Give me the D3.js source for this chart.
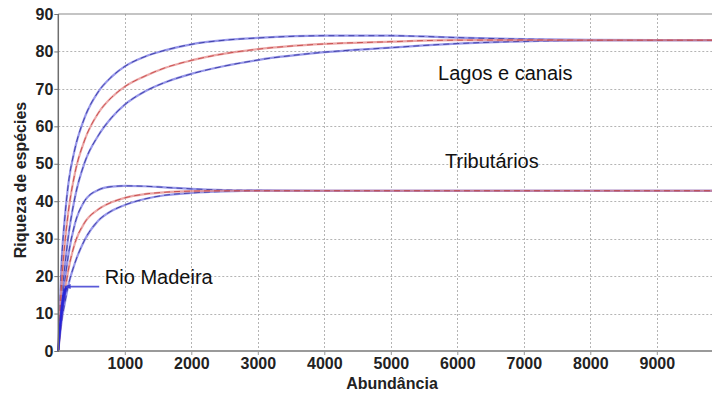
<!DOCTYPE html>
<html>
<head>
<meta charset="utf-8">
<script src="https://cdn.jsdelivr.net/npm/d3@7"></script>
<style>
  html, body { margin: 0; padding: 0; background: #fff; }
  svg { display: block; }
</style>
</head>
<body>
<svg id="chart" width="712" height="394"></svg>
<script>
// Rarefaction curves: species richness vs. abundance (upper bound, mean, lower bound)
const abundance = [0, 50, 100, 150, 250, 400, 600, 800, 1000, 1300, 1600, 2000, 2500, 3000, 4000, 5000, 5500, 6000, 7000, 8000, 9000, 9830];

const lagosUpper = [0, 24, 36, 44.5, 54, 62.5, 69.2, 73.2, 76.0, 78.6, 80.3, 81.9, 83.0, 83.6, 84.2, 84.2, 84.0, 83.7, 83.3, 83.1, 83.0, 83.0];
const lagosMean  = [0, 18, 29, 37, 47.5, 56.5, 63.5, 67.7, 70.6, 73.4, 75.6, 77.6, 79.4, 80.6, 82.0, 82.6, 82.9, 83.0, 83.05, 83.0, 83.0, 83.0];
const lagosLower = [0, 14, 23, 30.5, 41, 50.5, 57.5, 62.3, 65.8, 69.3, 71.7, 74.0, 76.1, 77.7, 79.8, 81.0, 81.6, 82.1, 82.7, 82.95, 83.0, 83.0];

const tribUpper = [0, 12, 19, 25.5, 34, 40.2, 43.0, 43.9, 44.1, 44.0, 43.7, 43.3, 43.0, 42.9, 42.8, 42.8, 42.8, 42.8, 42.8, 42.8, 42.8, 42.8];
const tribMean  = [0, 10, 16, 21.5, 28.8, 34.4, 37.8, 39.7, 40.9, 41.9, 42.4, 42.7, 42.8, 42.8, 42.8, 42.8, 42.8, 42.8, 42.8, 42.8, 42.8, 42.8];
const tribLower = [0, 8, 13, 17.5, 23.5, 29.8, 34.8, 37.4, 39.0, 40.6, 41.6, 42.2, 42.6, 42.8, 42.8, 42.8, 42.8, 42.8, 42.8, 42.8, 42.8, 42.8];

const madeiraAbundance = [0, 20, 40, 60, 80, 100, 125];
const madeiraUpper = [0, 6, 10.5, 13.5, 15.5, 16.5, 17.2];
const madeiraMean  = [0, 5, 9, 12, 14.5, 16, 17.2];
const madeiraLower = [0, 4, 7.5, 10.5, 13, 15, 17.2];

const xTicks = [1000, 2000, 3000, 4000, 5000, 6000, 7000, 8000, 9000];
const yTicks = [0, 10, 20, 30, 40, 50, 60, 70, 80, 90];
const xTitle = "Abundância";
const yTitle = "Riqueza de espécies";

// Site labels, anchored in data units (abundance, richness)
const siteLabels = [
  { text: "Lagos e canais", a: 5710, s: 72.3 },
  { text: "Tributários",   a: 5815, s: 48.8 },
  { text: "Rio Madeira",   a: 700,  s: 17.8 }
];
// Pointer from the "Rio Madeira" label to the end of its curve
const madeiraPointer = { from: 615, to: 110, s: 17.2 };

const svg = d3.select("#chart");
const W = 712, H = 394;
const margin = { left: 58.3, top: 14, right: 0, bottom: 43 };

const x = d3.scaleLinear().domain([0, 9830]).range([margin.left, W - margin.right]);
const y = d3.scaleLinear().domain([0, 90]).range([H - margin.bottom, margin.top]);

const font = "Arial, 'Liberation Sans', Helvetica, sans-serif";

// Dotted grid
const grid = svg.append("g").attr("stroke", "#b4b4b4").attr("stroke-width", 1).attr("stroke-dasharray", "2,2");
grid.selectAll("line.v").data(xTicks).join("line")
  .attr("x1", d => Math.round(x(d)) + 0.5).attr("x2", d => Math.round(x(d)) + 0.5)
  .attr("y1", y(90)).attr("y2", y(0));
grid.selectAll("line.h").data(yTicks.filter(d => d > 0 && d < 90)).join("line")
  .attr("y1", d => Math.round(y(d)) + 0.5).attr("y2", d => Math.round(y(d)) + 0.5)
  .attr("x1", x(0)).attr("x2", W);

// Top frame line
svg.append("line")
  .attr("x1", x(0)).attr("x2", W)
  .attr("y1", y(90)).attr("y2", y(90))
  .attr("stroke", "#8a8a8a").attr("stroke-width", 1.2);

// Curves
const line = d3.line()
  .x(d => x(d[0]))
  .y(d => y(d[1]))
  .curve(d3.curveMonotoneX);

const zipSeries = (xs, ys) => xs.map((v, i) => [v, ys[i]]);

function drawCurve(points, base, dark) {
  svg.append("path").datum(points)
    .attr("d", line).attr("fill", "none")
    .attr("stroke", base).attr("stroke-width", 2.2).attr("stroke-opacity", 0.75);
  svg.append("path").datum(points)
    .attr("d", line).attr("fill", "none")
    .attr("stroke", dark).attr("stroke-width", 1).attr("stroke-opacity", 0.8)
    .attr("stroke-dasharray", "6,4");
}

const blueBase = "#7474e2", blueDark = "#2e2e9a";
const redBase = "#e48a8a", redDark = "#c03c3c";

[lagosUpper, lagosLower, tribUpper, tribLower].forEach(s =>
  drawCurve(zipSeries(abundance, s), blueBase, blueDark));
[lagosMean, tribMean].forEach(s =>
  drawCurve(zipSeries(abundance, s), redBase, redDark));

[madeiraUpper, madeiraMean, madeiraLower].forEach(s =>
  svg.append("path").datum(zipSeries(madeiraAbundance, s))
    .attr("d", line).attr("fill", "none")
    .attr("stroke", "#2424d8").attr("stroke-width", 1.8).attr("stroke-opacity", 0.85));

// Pointer with arrowhead
const py = y(madeiraPointer.s);
svg.append("line")
  .attr("x1", x(madeiraPointer.from)).attr("x2", x(madeiraPointer.to))
  .attr("y1", py).attr("y2", py)
  .attr("stroke", "#5a5ad8").attr("stroke-width", 1.6);
const tipX = x(madeiraPointer.to);
svg.append("path")
  .attr("d", `M${tipX - 1},${py} L${tipX + 5},${py - 2.5} L${tipX + 5},${py + 2.5} Z`)
  .attr("fill", "#4040d0");

// Axes
const xAxis = d3.axisBottom(x).tickValues(xTicks).tickSize(4).tickPadding(3.1).tickFormat(d3.format("d"));
const yAxis = d3.axisLeft(y).tickValues(yTicks).tickSize(4).tickPadding(1).tickFormat(d3.format("d"));

const gx = svg.append("g").attr("transform", `translate(0,${y(0)})`).call(xAxis);
gx.select(".domain").remove();
gx.selectAll(".tick line").attr("stroke", "#999").attr("stroke-width", 1);
gx.selectAll("text").attr("font-family", font).attr("font-size", 16).attr("font-weight", "bold").attr("fill", "#222");

const gy = svg.append("g").attr("transform", `translate(${x(0)},0)`).call(yAxis);
gy.select(".domain").remove();
gy.selectAll(".tick line").attr("stroke", "#777").attr("stroke-width", 1);
gy.selectAll("text").attr("font-family", font).attr("font-size", 16).attr("font-weight", "bold").attr("fill", "#222");

// Axis lines
svg.append("line")
  .attr("x1", x(0)).attr("x2", W).attr("y1", y(0)).attr("y2", y(0))
  .attr("stroke", "#9a9a9a").attr("stroke-width", 2);
svg.append("line")
  .attr("x1", x(0)).attr("x2", x(0)).attr("y1", y(90)).attr("y2", y(0) + 1)
  .attr("stroke", "#6e6e6e").attr("stroke-width", 1.5);

// Axis titles
svg.append("text")
  .attr("x", 392).attr("y", 388.5)
  .attr("text-anchor", "middle")
  .attr("font-family", font).attr("font-size", 16).attr("font-weight", "bold").attr("fill", "#222")
  .text(xTitle);
svg.append("text")
  .attr("transform", "translate(26,180) rotate(-90)")
  .attr("text-anchor", "middle")
  .attr("font-family", font).attr("font-size", 16).attr("font-weight", "bold").attr("fill", "#222")
  .text(yTitle);

// Site labels
svg.selectAll("text.site").data(siteLabels).join("text")
  .attr("class", "site")
  .attr("x", d => x(d.a)).attr("y", d => y(d.s))
  .attr("font-family", font).attr("font-size", 20).attr("fill", "#111")
  .text(d => d.text);
</script>
</body>
</html>
